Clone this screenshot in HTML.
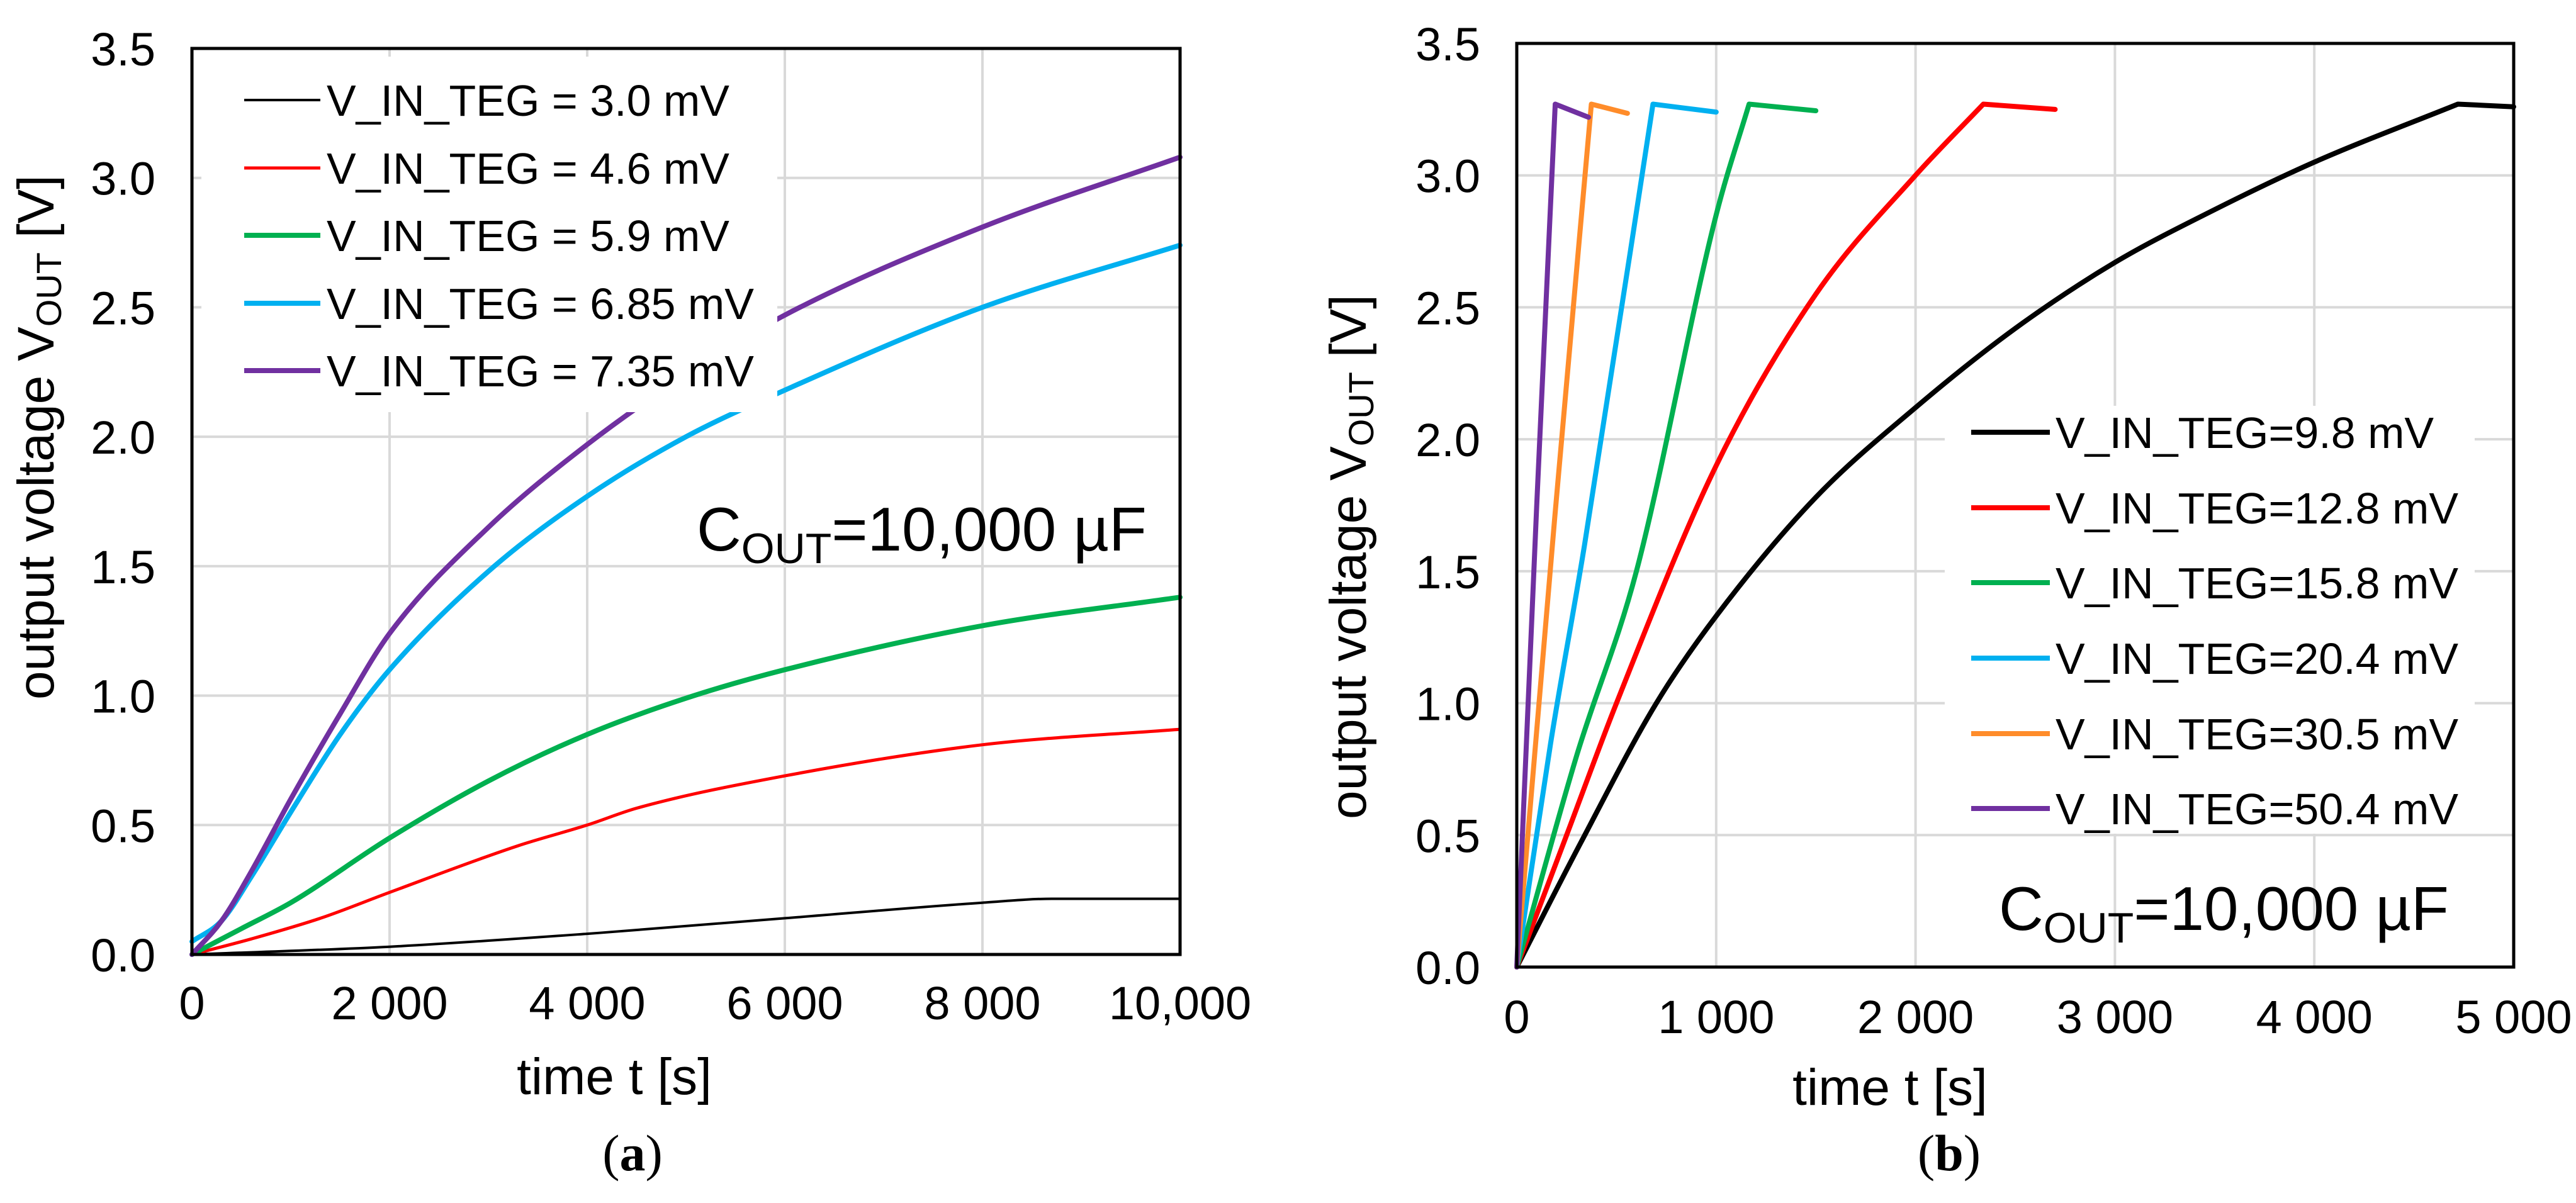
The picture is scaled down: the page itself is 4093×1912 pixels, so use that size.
<!DOCTYPE html>
<html><head><meta charset="utf-8"><style>
html,body{margin:0;padding:0;background:#fff}
svg{display:block;font-family:"Liberation Sans",sans-serif}
</style></head><body>
<svg id="s" width="4093" height="1912" viewBox="0 0 4093 1912">
<g id="gA"></g>
<g id="gB"></g>
</svg>
<script>
const NS="http://www.w3.org/2000/svg";
// Chart A data
const aXTicks=[0,2000,4000,6000,8000,10000];
const aXTickLabels=["0","2 000","4 000","6 000","8 000","10,000"];
const yTicks=[0,0.5,1,1.5,2,2.5,3,3.5];
const yTickLabels=["0.0","0.5","1.0","1.5","2.0","2.5","3.0","3.5"];
const aNames=["V_IN_TEG = 3.0 mV","V_IN_TEG = 4.6 mV","V_IN_TEG = 5.9 mV","V_IN_TEG = 6.85 mV","V_IN_TEG = 7.35 mV"];
const aBlackT=[0,2000,4000,6000,8000,8700,10000];
const aBlackV=[0,0.03,0.08,0.14,0.2,0.215,0.215];
const aRedT=[0,600,1300,2000,3300,4000,4500,6000,8000,10000];
const aRedV=[0,0.06,0.14,0.24,0.42,0.5,0.565,0.69,0.81,0.87];
const aGreenT=[0,500,1000,2000,3000,4000,5000,6000,8000,10000];
const aGreenV=[0,0.1,0.2,0.45,0.67,0.85,0.99,1.1,1.27,1.38];
const aBlueT=[0,300,600,1000,1500,2000,3000,4000,5000,6000,8000,10000];
const aBlueV=[0.05,0.13,0.3,0.55,0.85,1.1,1.48,1.77,2.0,2.18,2.5,2.74];
const aPurpleT=[0,300,600,1000,1500,2000,3000,4000,5000,6000,8000,10000];
const aPurpleV=[0,0.13,0.32,0.6,0.93,1.24,1.65,1.97,2.24,2.47,2.81,3.08];
// Chart B data
const bXTicks=[0,1000,2000,3000,4000,5000];
const bXTickLabels=["0","1 000","2 000","3 000","4 000","5 000"];
const bNames=["V_IN_TEG=9.8 mV","V_IN_TEG=12.8 mV","V_IN_TEG=15.8 mV","V_IN_TEG=20.4 mV","V_IN_TEG=30.5 mV","V_IN_TEG=50.4 mV"];
const bBlackT=[0,320,700,1000,1500,2000,2500,3000,3500,4000,4720,5000];
const bBlackV=[0,0.47,1.0,1.33,1.78,2.12,2.42,2.67,2.87,3.05,3.27,3.26];
const bRedT=[0,250,500,1000,1500,2000,2340,2700];
const bRedV=[0,0.5,1.0,1.9,2.55,3.0,3.27,3.25];
const bGreenT=[0,300,600,1000,1165,1500];
const bGreenV=[0,0.8,1.5,2.85,3.27,3.245];
const bBlueT=[0,170,340,683,1000];
const bBlueV=[0,0.85,1.6,3.27,3.24];
const bOrangeT=[0,190,374,555];
const bOrangeV=[0,1.7,3.27,3.235];
const bPurpleT=[0,100,193,360];
const bPurpleV=[0,1.75,3.27,3.22];

function el(p,t,a,txt){const e=document.createElementNS(NS,t);for(const k in a)e.setAttribute(k,a[k]);if(txt!==undefined)e.textContent=txt;p.appendChild(e);return e;}

// monotone cubic (Fritsch-Carlson) on one monotone segment
function monoSeg(P){
  const n=P.length;if(n<2)return "";
  const dx=[],dy=[],m=[];
  for(let i=0;i<n-1;i++){dx.push(P[i+1][0]-P[i][0]);dy.push(P[i+1][1]-P[i][1]);m.push(dy[i]/dx[i]);}
  const t=[m[0]];
  for(let i=1;i<n-1;i++){t.push(m[i-1]*m[i]<=0?0:(m[i-1]+m[i])/2);}
  t.push(m[n-2]);
  for(let i=0;i<n-1;i++){
    if(m[i]===0){t[i]=0;t[i+1]=0;continue;}
    const a=t[i]/m[i],b=t[i+1]/m[i],s=a*a+b*b;
    if(s>9){const k=3/Math.sqrt(s);t[i]=k*a*m[i];t[i+1]=k*b*m[i];}
  }
  let d="";
  for(let i=0;i<n-1;i++){
    const h=dx[i]/3;
    d+=" C"+(P[i][0]+h).toFixed(1)+","+(P[i][1]+t[i]*h).toFixed(1)+" "+(P[i+1][0]-h).toFixed(1)+","+(P[i+1][1]-t[i+1]*h).toFixed(1)+" "+P[i+1][0].toFixed(1)+","+P[i+1][1].toFixed(1);
  }
  return d;
}
function smoothPath(P){
  // split at local maxima (sharp corners)
  let d="M"+P[0][0].toFixed(1)+","+P[0][1].toFixed(1);
  let start=0;
  for(let i=1;i<P.length-1;i++){
    if(P[i][1]<P[i-1][1]&&P[i][1]<P[i+1][1]){d+=monoSeg(P.slice(start,i+1));start=i;}
  }
  d+=monoSeg(P.slice(start));
  return d;
}

function chart(g,c){
  const sx=t=>c.x0+(t-c.xmin)/(c.xmax-c.xmin)*(c.x1-c.x0);
  const sy=v=>c.y0-(v/3.5)*(c.y0-c.yt);
  c.xt.forEach((t,i)=>{
    if(i>0&&i<c.xt.length-1){const l=el(g,"line",{x1:sx(t),x2:sx(t),y1:c.yt,y2:c.y0,stroke:"#d9d9d9","stroke-width":4});
    }
    const tx=el(g,"text",{x:sx(t),y:c.xly,"font-size":74,"text-anchor":"middle",fill:"#000"},c.xl[i]);
    
  });
  yTicks.forEach((v,i)=>{
    if(i>0&&i<yTicks.length-1){const l=el(g,"line",{x1:c.x0,x2:c.x1,y1:sy(v),y2:sy(v),stroke:"#d9d9d9","stroke-width":4});
    }
    const tx=el(g,"text",{x:c.x0-58,y:sy(v)+27,"font-size":74,"text-anchor":"end",fill:"#000"},yTickLabels[i]);
    
  });
  c.series.forEach(s=>{
    const P=s.t.map((t,i)=>[sx(t),sy(s.v[i])]);
    const p=el(g,"path",{d:smoothPath(P),fill:"none",stroke:s.col,"stroke-width":s.w,"stroke-linejoin":"round","stroke-linecap":"round"});
    
  });
  const lb2=el(g,"rect",{x:c.lbx,y:c.lby,width:c.lbw,height:c.lbh,fill:"#fff"});
  
  c.series.forEach((s,i)=>{
    const y=c.ly[i];
    const l=el(g,"line",{x1:c.llx1,x2:c.llx2,y1:y,y2:y,stroke:s.col,"stroke-width":s.w});
    
    const tx=el(g,"text",{x:c.ltx,y:y+25,"font-size":70,fill:"#000"},c.names[i]);
    
  });
  const fr=el(g,"rect",{x:c.x0,y:c.yt,width:c.x1-c.x0,height:c.y0-c.yt,fill:"none",stroke:"#000","stroke-width":5});
  
  const co=el(g,"text",{x:c.cx,y:c.cy,"font-size":98,fill:"#000"});
  
  co.innerHTML='C<tspan font-size="68" dy="20">OUT</tspan><tspan dy="-20">=10,000 µF</tspan>';
  const xt=el(g,"text",{x:c.xtx,y:c.xty,"font-size":82,"text-anchor":"middle",fill:"#000"},"time t [s]");
  
  const yt=el(g,"text",{x:0,y:0,"font-size":82,"text-anchor":"middle",fill:"#000",transform:`translate(${c.ytx},${c.yty}) rotate(-90)`});
  
  yt.innerHTML='output voltage V<tspan font-size="56" dy="12">OUT</tspan><tspan dy="-12"> [V]</tspan>';
  const cap=el(g,"text",{x:c.capx,y:1860,"font-size":82,"text-anchor":"middle",fill:"#000","font-family":"Liberation Serif, serif"});
  
  cap.innerHTML='(<tspan font-weight="bold">'+c.cap+'</tspan>)';
}

chart(document.getElementById("gA"),{x0:305,x1:1875,y0:1517,yt:77,xmin:0,xmax:10000,xt:aXTicks,xl:aXTickLabels,xly:1620,
  names:aNames,series:[{t:aBlackT,v:aBlackV,col:"#000",w:4},{t:aRedT,v:aRedV,col:"#ff0000",w:5},{t:aGreenT,v:aGreenV,col:"#00b050",w:8},{t:aBlueT,v:aBlueV,col:"#00b0f0",w:8},{t:aPurpleT,v:aPurpleV,col:"#7030a0",w:8}],
  lbx:320,lby:90,lbw:915,lbh:565,ly:[159,267,374,482,589],llx1:388,llx2:509,ltx:519,
  cx:1107,cy:875,xtx:976,xty:1739,ytx:85,yty:695,capx:1005,cap:"a"});
chart(document.getElementById("gB"),{x0:2410,x1:3994,y0:1537,yt:69,xmin:0,xmax:5000,xt:bXTicks,xl:bXTickLabels,xly:1642,
  names:bNames,series:[{t:bBlackT,v:bBlackV,col:"#000",w:8},{t:bRedT,v:bRedV,col:"#ff0000",w:8},{t:bGreenT,v:bGreenV,col:"#00b050",w:8},{t:bBlueT,v:bBlueV,col:"#00b0f0",w:8},{t:bOrangeT,v:bOrangeV,col:"#ff8c2a",w:8},{t:bPurpleT,v:bPurpleV,col:"#7030a0",w:8}],
  lbx:3090,lby:645,lbw:842,lbh:680,ly:[687,807,926,1046,1166,1285],llx1:3132,llx2:3257,ltx:3266,
  cx:3176,cy:1478,xtx:3003,xty:1756,ytx:2170,yty:885,capx:3097,cap:"b"});
</script>
</body></html>
